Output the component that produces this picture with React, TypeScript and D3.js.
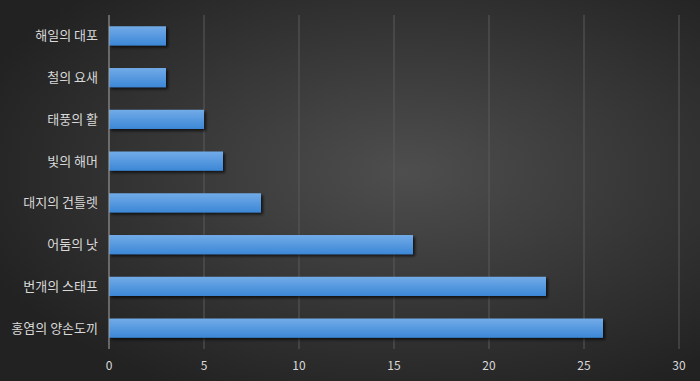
import React from "react";
import * as d3 from "d3";

const categories = ["해일의 대포", "철의 요새", "태풍의 활", "빛의 해머", "대지의 건틀렛", "어둠의 낫", "번개의 스태프", "홍염의 양손도끼"];
const values = [3, 3, 5, 6, 8, 16, 23, 26];
const xTicks = [0, 5, 10, 15, 20, 25, 30];

const W = 700, H = 381;
const M = { left: 109, right: 21, top: 15, bottom: 32 };

export default function App() {
  const x = d3.scaleLinear().domain([0, 30]).range([M.left, W - M.right]);
  const y = d3.scaleBand<string>().domain(categories).range([M.top, H - M.bottom]).paddingInner(0.54).paddingOuter(0.27);
  const font = "'Noto Sans CJK KR', 'Noto Sans', sans-serif";
  return (
    <div style={{ position: "absolute", left: 0, top: 0 }}>
      <svg width={W} height={H} style={{ display: "block" }}>
        <defs>
          <radialGradient id="bg" cx="0.58" cy="0.45" r="0.65">
            <stop offset="0" stopColor="#4e4e4e" />
            <stop offset="1" stopColor="#222222" />
          </radialGradient>
          <linearGradient id="bar" x1="0" y1="0" x2="0" y2="1">
            <stop offset="0" stopColor="#72abe8" />
            <stop offset="1" stopColor="#3c87d6" />
          </linearGradient>
          <filter id="sh" x="-10%" y="-30%" width="130%" height="190%">
            <feGaussianBlur in="SourceAlpha" stdDeviation="1.5" />
            <feOffset dx="2" dy="2" result="b" />
            <feComponentTransfer><feFuncA type="linear" slope="0.7" /></feComponentTransfer>
            <feMerge><feMergeNode /><feMergeNode in="SourceGraphic" /></feMerge>
          </filter>
        </defs>
        <rect width={W} height={H} fill="url(#bg)" />
        {xTicks.slice(1).map(t => (
          <line key={t} x1={x(t)} x2={x(t)} y1={M.top} y2={H - M.bottom} stroke="#5a5a5a" strokeWidth={1} />
        ))}
        {categories.map((c, i) => (
          <rect key={c} x={x(0)} y={y(c)!} width={x(values[i]) - x(0)} height={y.bandwidth()} fill="url(#bar)" filter="url(#sh)" />
        ))}
        <line x1={x(0)} x2={x(0)} y1={M.top} y2={H - M.bottom} stroke="#a8a8a8" strokeWidth={1} />
        {categories.map(c => (
          <text key={c} x={M.left - 11} y={y(c)! + y.bandwidth() / 2} dy="0.35em" textAnchor="end" fill="#d9d9d9" fontSize={13} fontFamily={font}>{c}</text>
        ))}
        {xTicks.map(t => (
          <text key={t} x={x(t)} y={H - 15} dy="0.35em" textAnchor="middle" fill="#d9d9d9" fontSize={12} fontFamily={font}>{t}</text>
        ))}
      </svg>
    </div>
  );
}
